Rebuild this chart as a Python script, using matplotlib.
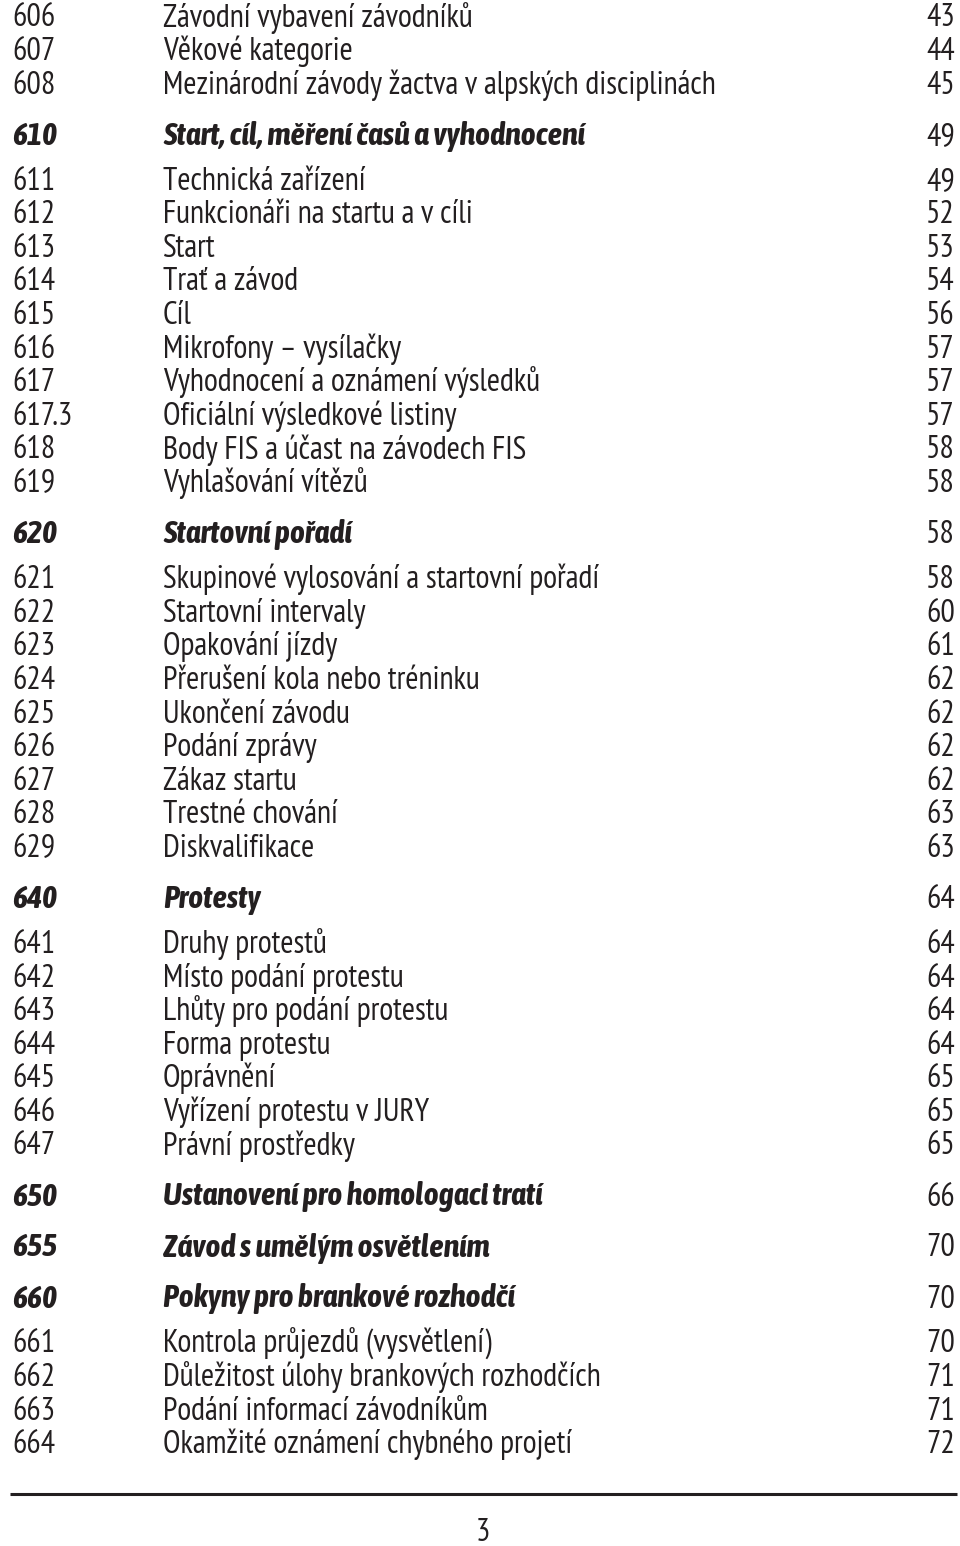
import matplotlib.pyplot as plt

# table of contents entries
numbers = ["606", "607", "608", "610", "611", "612", "613", "614", "615", "616", "617",
           "617.3", "618", "619", "620", "621", "622", "623", "624", "625", "626", "627",
           "628", "629", "640", "641", "642", "643", "644", "645", "646", "647", "650",
           "655", "660", "661", "662", "663", "664"]
titles = ["Závodní vybavení závodníků", "Věkové kategorie",
          "Mezinárodní závody žactva v alpských disciplinách",
          "Start, cíl, měření časů a vyhodnocení", "Technická zařízení",
          "Funkcionáři na startu a v cíli", "Start", "Trať a závod", "Cíl",
          "Mikrofony – vysílačky", "Vyhodnocení a oznámení výsledků",
          "Oficiální výsledkové listiny", "Body FIS a účast na závodech FIS",
          "Vyhlašování vítězů", "Startovní pořadí",
          "Skupinové vylosování a startovní pořadí", "Startovní intervaly",
          "Opakování jízdy", "Přerušení kola nebo tréninku", "Ukončení závodu",
          "Podání zprávy", "Zákaz startu", "Trestné chování", "Diskvalifikace",
          "Protesty", "Druhy protestů", "Místo podání protestu",
          "Lhůty pro podání protestu", "Forma protestu", "Oprávnění",
          "Vyřízení protestu v JURY", "Právní prostředky",
          "Ustanovení pro homologaci tratí", "Závod s umělým osvětlením",
          "Pokyny pro brankové rozhodčí", "Kontrola průjezdů (vysvětlení)",
          "Důležitost úlohy brankových rozhodčích", "Podání informací závodníkům",
          "Okamžité oznámení chybného projetí"]
pages = ["43", "44", "45", "49", "49", "52", "53", "54", "56", "57", "57", "57", "58",
         "58", "58", "58", "60", "61", "62", "62", "62", "62", "63", "63", "64", "64",
         "64", "64", "64", "65", "65", "65", "66", "70", "70", "70", "71", "71", "72"]
headings = ["610", "620", "640", "650", "655", "660"]
page_no = "3"

ink = "#231f20"
regular = dict(fontsize=23, family=["PT Sans Narrow", "DejaVu Sans"], color=ink, va="baseline")
bold = dict(fontsize=23, family=["Asap Condensed", "DejaVu Sans"], color=ink, va="baseline",
            fontweight="bold", fontstyle="italic")

fig = plt.figure(figsize=(9.6, 15.46), dpi=100)
ax = fig.add_axes([0, 0, 1, 1])
ax.set_xlim(0, 960)
ax.set_ylim(1546, 0)
ax.axis("off")

y = 26.5
prev_head = False
for i, (n, t, p) in enumerate(zip(numbers, titles, pages)):
    head = n in headings
    if i > 0:
        if head:
            y += 51
        elif prev_head:
            y += 45
        else:
            y += 33.6
    prev_head = head
    kw = bold if head else regular
    ax.text(12, y, n, ha="left", **kw)
    ax.text(163, y, t, ha="left", **kw)
    ax.text(955, y, p, ha="right", **regular)

ax.plot([10, 957], [1494, 1494], color=ink, lw=2.2, solid_capstyle="butt")
ax.text(483, 1541, page_no, ha="center", **regular)

fig.savefig("out.png", dpi=100)
